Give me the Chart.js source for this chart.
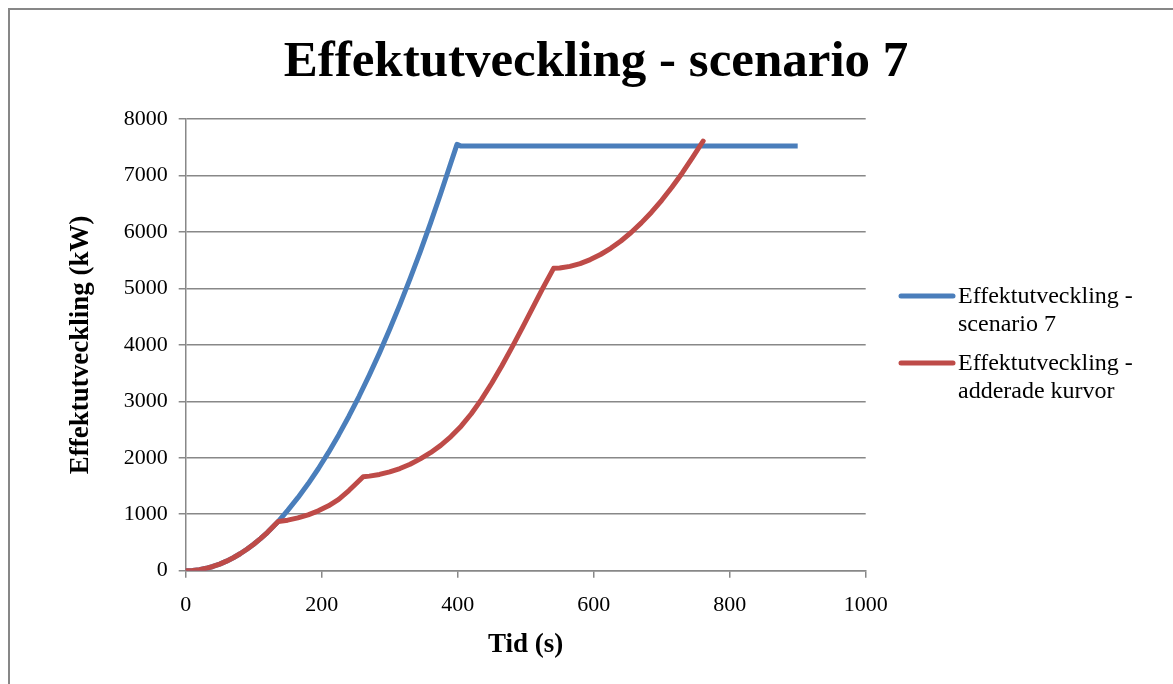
<!DOCTYPE html>
<html>
<head>
<meta charset="utf-8">
<script src="https://cdn.jsdelivr.net/npm/chart.js@4/dist/chart.umd.min.js"></script>
<style>
  html, body { margin: 0; padding: 0; background: #fff; overflow: hidden; width: 1173px; height: 684px; }
  #frame { position: absolute; left: 8px; top: 8px; width: 1200px; height: 700px; border: 2px solid #878787; background: #fff; }
  #wrap { position: absolute; left: 0; top: 0; width: 1172px; height: 674px; }
</style>
</head>
<body>
<div id="frame"><div id="wrap"><canvas id="c"></canvas></div></div>
<script>
// Time (s) and power (kW) for the scenario 7 curve
const scenarioTime  = [0, 10, 20, 30, 40, 50, 60, 70, 80, 90, 100, 110, 120, 136, 150, 165, 180, 195, 210, 225, 240, 255, 270, 285, 300, 315, 330, 345, 360, 375, 390, 399, 405, 900];
const scenarioPower = [0, 5, 19, 42, 75, 117, 169, 230, 300, 380, 469, 568, 675, 870, 1069, 1293, 1539, 1806, 2095, 2405, 2736, 3089, 3463, 3858, 4275, 4713, 5173, 5653, 6156, 6680, 7225, 7550, 7520, 7520];

// Time (s) and power (kW) for the summed curves
const summedTime  = [0, 10, 20, 30, 40, 50, 60, 70, 80, 90, 100, 110, 120, 136, 150, 165, 180, 195, 210, 225, 240, 250, 261, 270, 285, 300, 315, 330, 345, 360, 375, 390, 405, 420, 435, 450, 465, 480, 495, 510, 525, 541, 550, 565, 580, 595, 610, 625, 640, 655, 670, 685, 700, 715, 730, 745, 761];
const summedPower = [0, 5, 19, 42, 75, 117, 169, 230, 300, 380, 469, 568, 675, 870, 895, 935, 990, 1060, 1150, 1265, 1420, 1535, 1665, 1675, 1705, 1750, 1810, 1885, 1980, 2090, 2220, 2375, 2560, 2780, 3035, 3320, 3630, 3960, 4300, 4650, 5000, 5355, 5360, 5390, 5440, 5510, 5600, 5710, 5840, 5990, 6160, 6350, 6560, 6790, 7040, 7310, 7610];

const seriesLabels = ['Effektutveckling - scenario 7', 'Effektutveckling - adderade kurvor'];
const legendLines  = [['Effektutveckling -', 'scenario 7'], ['Effektutveckling -', 'adderade kurvor']];
const seriesColors = ['#4A7EBB', '#BE4B48'];

const xTicks = [0, 200, 400, 600, 800, 1000];
const yTicks = [0, 1000, 2000, 3000, 4000, 5000, 6000, 7000, 8000];

const chartTitle = 'Effektutveckling - scenario 7';
const xTitle = 'Tid (s)';
const yTitle = 'Effektutveckling (kW)';

const toPoints = (xs, ys) => xs.map((x, i) => ({ x: x, y: ys[i] }));

const SERIF = "'Liberation Serif', 'DejaVu Serif', serif";
const GRID = '#888888';

// Legend drawn to the right of the plot, with two-line labels
const sideLegend = {
  id: 'sideLegend',
  afterDraw(chart) {
    const ctx = chart.ctx;
    const lineX0 = 891, lineX1 = 943, textX = 948;
    const rowTop = [286, 353];
    const lineGap = 28;
    ctx.save();
    chart.data.datasets.forEach((ds, i) => {
      const y = rowTop[i];
      ctx.strokeStyle = ds.borderColor;
      ctx.lineWidth = 5;
      ctx.lineCap = 'round';
      ctx.beginPath();
      ctx.moveTo(lineX0, y);
      ctx.lineTo(lineX1, y);
      ctx.stroke();
      ctx.fillStyle = '#000';
      ctx.font = "24px " + SERIF;
      ctx.textAlign = 'left';
      ctx.textBaseline = 'middle';
      legendLines[i].forEach((t, k) => ctx.fillText(t, textX, y + 1 + k * lineGap));
    });
    ctx.restore();
  }
};

const plainTick = (v) => String(v);

new Chart(document.getElementById('c'), {
  type: 'line',
  data: {
    datasets: [
      {
        label: seriesLabels[0],
        data: toPoints(scenarioTime, scenarioPower),
        borderColor: seriesColors[0],
        backgroundColor: seriesColors[0],
        borderWidth: 5,
        pointRadius: 0,
        tension: 0,
        borderJoinStyle: 'round',
        borderCapStyle: 'butt',
        fill: false,
        order: 1
      },
      {
        label: seriesLabels[1],
        data: toPoints(summedTime, summedPower),
        borderColor: seriesColors[1],
        backgroundColor: seriesColors[1],
        borderWidth: 5,
        pointRadius: 0,
        tension: 0,
        borderJoinStyle: 'round',
        borderCapStyle: 'round',
        fill: false,
        order: 0
      }
    ]
  },
  options: {
    responsive: true,
    maintainAspectRatio: false,
    animation: false,
    events: [],
    layout: { padding: 0 },
    plugins: {
      legend: { display: false },
      tooltip: { enabled: false },
      title: {
        display: true,
        text: chartTitle,
        color: '#000',
        font: { family: SERIF, size: 51, weight: 'bold', lineHeight: 1.2 },
        padding: { top: 22, bottom: 25.8 }
      }
    },
    scales: {
      x: {
        type: 'linear',
        min: 0,
        max: 1000,
        afterBuildTicks: (s) => { s.ticks = xTicks.map(v => ({ value: v })); },
        afterFit: (s) => { s.height = 113.3; },
        grid: { drawOnChartArea: false, drawTicks: true, tickLength: 7, color: GRID, lineWidth: 1.5 },
        border: { display: true, color: GRID, width: 1.5 },
        ticks: { color: '#000', font: { family: SERIF, size: 22 }, padding: 14, maxRotation: 0, callback: plainTick },
        title: {
          display: true,
          text: xTitle,
          color: '#000',
          font: { family: SERIF, size: 27, weight: 'bold', lineHeight: 1.2 },
          padding: { top: 0, bottom: 22.8 }
        }
      },
      y: {
        type: 'linear',
        min: 0,
        max: 8000,
        afterBuildTicks: (s) => { s.ticks = yTicks.map(v => ({ value: v })); },
        afterFit: (s) => { s.width = 175.7; },
        grid: { drawOnChartArea: true, drawTicks: true, tickLength: 7, color: GRID, lineWidth: 1.5 },
        border: { display: true, color: GRID, width: 1.5 },
        ticks: { color: '#000', font: { family: SERIF, size: 22 }, padding: 11, callback: plainTick },
        title: {
          display: true,
          text: yTitle,
          color: '#000',
          font: { family: SERIF, size: 27, weight: 'bold', lineHeight: 1.2 },
          padding: { top: 54.8, bottom: 0 }
        }
      },
      // empty band on the right that holds the legend
      legendSpace: {
        type: 'linear',
        position: 'right',
        display: true,
        afterFit: (s) => { s.width = 316.3; },
        grid: { display: false, drawTicks: false },
        border: { display: false },
        ticks: { display: false }
      }
    }
  },
  plugins: [sideLegend]
});
</script>
</body>
</html>
